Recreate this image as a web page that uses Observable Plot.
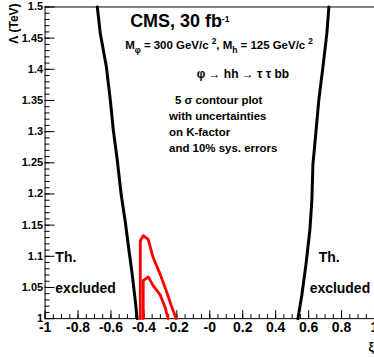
<!DOCTYPE html>
<html><head><meta charset="utf-8">
<script src="https://cdn.jsdelivr.net/npm/d3@7"></script>
<script src="https://cdn.jsdelivr.net/npm/@observablehq/plot@0.6"></script>
<style>
html,body{margin:0;padding:0;background:#fff;overflow:hidden;}
svg text{font-family:"Liberation Sans",Arial,Helvetica,sans-serif;}
</style></head><body><div id="chart"></div>
<script>
// Theoretical exclusion boundaries (black)
const leftXi     = [-0.683,-0.665,-0.628,-0.604,-0.586,-0.562,-0.538,-0.513,-0.489,-0.471,-0.453,-0.441];
const leftLambda = [1.5,1.458,1.404,1.351,1.303,1.255,1.199,1.155,1.106,1.071,1.030,1.0];
const rightXi     = [0.723,0.711,0.687,0.662,0.644,0.626,0.620,0.608,0.584,0.559,0.535];
const rightLambda = [1.5,1.458,1.404,1.351,1.298,1.247,1.191,1.143,1.087,1.038,1.0];
// 5 sigma contours (red)
const outerXi     = [-0.422,-0.422,-0.404,-0.374,-0.344,-0.301,-0.265,-0.235,-0.204];
const outerLambda = [1.0,1.125,1.133,1.127,1.098,1.071,1.045,1.022,1.0];
const innerXi     = [-0.404,-0.404,-0.374,-0.344,-0.301,-0.271,-0.253];
const innerLambda = [1.0,1.061,1.067,1.053,1.038,1.018,1.0];
// axis ticks
const xTicks = [-1,-0.8,-0.6,-0.4,-0.2,0,0.2,0.4,0.6,0.8,1];
const xTickLabels = ["-1","-0.8","-0.6","-0.4","-0.2","-0","0.2","0.4","0.6","0.8","1"];
const yTicks = [1,1.05,1.1,1.15,1.2,1.25,1.3,1.35,1.4,1.45,1.5];
const yTickLabels = ["1","1.05","1.1","1.15","1.2","1.25","1.3","1.35","1.4","1.45","1.5"];
const xMinor = d3.range(-1, 1.0001, 0.05);
const yMinor = d3.range(1, 1.5001, 0.01);

const toPts = (xs, ys) => xs.map((x, i) => ({xi: x, lambda: ys[i]}));

const W = 375, H = 358, ML = 44.7, MR = 0, MT = 6.5, MB = 39;
const FW = W - ML - MR, FH = H - MT - MB;
// annotation helper: pixel position of baseline start relative to frame top-left
const ann = (txt, px, py, size, anchor = "start", extra = {}) =>
  Plot.text([txt], {frameAnchor: "top-left", dx: px - ML, dy: py - MT, text: d => d,
    textAnchor: anchor, lineAnchor: "bottom", fontSize: size, fontWeight: "bold", fill: "black", ...extra});

const chart = Plot.plot({
  width: W, height: H, marginLeft: ML, marginRight: MR, marginTop: MT, marginBottom: MB,
  x: {domain: [-1, 1], axis: null},
  y: {domain: [1, 1.5], axis: null},
  style: {background: "white", fontFamily: "Liberation Sans, Arial, sans-serif"},
  marks: [
    Plot.frame({stroke: "black", strokeWidth: 1}),
    Plot.tickX(xMinor, {x: d => d, insetTop: FH - 4, stroke: "black"}),
    Plot.tickX(xTicks, {x: d => d, insetTop: FH - 8, stroke: "black"}),
    Plot.tickY(yMinor, {y: d => d, insetRight: FW - 5, stroke: "black"}),
    Plot.tickY(yTicks, {y: d => d, insetRight: FW - 10, stroke: "black"}),
    Plot.text(xTicks, {x: d => d, frameAnchor: "bottom", dy: 13, text: (d, i) => xTickLabels[i],
      fontSize: 14, fontWeight: "bold", fill: "black"}),
    Plot.text(yTicks, {y: d => d, frameAnchor: "left", dx: -2, textAnchor: "end", text: (d, i) => yTickLabels[i],
      fontSize: 11, fontWeight: "bold", fill: "black"}),
    Plot.line(toPts(leftXi, leftLambda), {x: "xi", y: "lambda", stroke: "black", strokeWidth: 3}),
    Plot.line(toPts(rightXi, rightLambda), {x: "xi", y: "lambda", stroke: "black", strokeWidth: 3}),
    Plot.line(toPts(outerXi, outerLambda), {x: "xi", y: "lambda", stroke: "#ff0000", strokeWidth: 2.8}),
    Plot.line(toPts(innerXi, innerLambda), {x: "xi", y: "lambda", stroke: "#ff0000", strokeWidth: 2.8}),
    ann("CMS, 30 fb^{-1}", 130, 27, 18),
    ann("M_{φ} = 300 GeV/c ^{2}, M_{h} = 125 GeV/c ^{2}", 125, 49, 11.5),
    ann("φ → hh → τ τ bb", 243, 78, 12, "middle"),
    ann("5 σ contour plot", 175, 104, 11.5),
    ann("with uncertainties", 169, 120, 11.5),
    ann("on K-factor", 169, 136, 11.5),
    ann("and 10% sys. errors", 169, 152, 11.5),
    ann("Th.", 55, 262, 14),
    ann("excluded", 55, 293, 14),
    ann("Th.", 319, 262, 14),
    ann("excluded", 310, 293, 14),
    ann("Λ (TeV)", 18, 3, 12, "end", {rotate: -90}),
    ann("ξ", 369, 351, 12)
  ]
});

// render ^{..} and _{..} as super/subscript tspans
d3.select(chart).selectAll("text").each(function () {
  const s = this.textContent;
  if (!/[\^_]\{/.test(s)) return;
  const fs = parseFloat(getComputedStyle(this).fontSize) || 12;
  const re = /([\^_])\{([^}]*)\}/g;
  let last = 0, m, pending = 0;
  this.textContent = "";
  const sel = d3.select(this);
  while ((m = re.exec(s))) {
    if (m.index > last) sel.append("tspan").attr("dy", pending).text(s.slice(last, m.index)), pending = 0;
    const shift = m[1] === "^" ? -0.45 * fs : 0.28 * fs;
    sel.append("tspan").attr("dy", pending + shift).attr("font-size", 0.7 * fs).text(m[2]);
    pending = -shift;
    last = re.lastIndex;
  }
  if (last < s.length) sel.append("tspan").attr("dy", pending).text(s.slice(last));
});

document.getElementById("chart").appendChild(chart);
</script></body></html>
